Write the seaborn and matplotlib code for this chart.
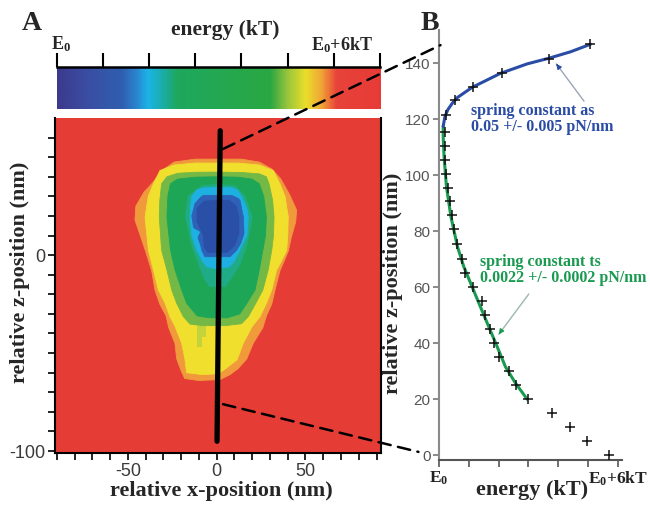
import numpy as np
import pandas as pd
import matplotlib
matplotlib.use("Agg")
import matplotlib.pyplot as plt
import seaborn as sns
from matplotlib.colors import LinearSegmentedColormap
from matplotlib.patches import ConnectionPatch

# ---------------- data ----------------
# colour scale (energy in kT above E0)
cbar_pos = [0.00, 0.08, 0.20, 0.245, 0.28, 0.32, 0.37, 0.66, 0.715, 0.77, 0.82, 0.865, 1.00]
cbar_col = ["#3b3a8e", "#3b4ca0", "#2f5fb0", "#2a86cf", "#1bb5e6", "#1aaeb0", "#1ea85e",
            "#2aa742", "#9cc63c", "#eadf2a", "#f1a236", "#e8433a", "#e73b37"]
cbar_ticks = [0, 1, 2, 3, 4, 5, 6, 7]

# energy landscape (panel A): iso-energy band outlines, (x nm, z nm)
band_names = ["orange", "yellow", "lightgreen", "green", "teal", "cyan", "blue", "darkblue"]
band_colors = ["#f09a3c", "#f1df2e", "#74b945", "#1ea657", "#1fab86", "#1eb0e0", "#2d62b8", "#2a4fa6"]
band_x = [
    [0, 14, 24, 31, 36, 41, 45, 44.5, 42, 40.3, 38, 35.6, 32.8, 31, 28, 26, 20.6, 16.9, 12, 7.5, 2, -10, -18,
     -20, -22.5, -23.5, -27, -28.5, -32, -34.7, -36.6, -40, -43, -46, -45.5, -41, -36, -31, -24, -12],
    [0, 12, 24, 31.9, 35.6, 38.5, 40.3, 40, 39.4, 36.5, 33.75, 31, 28, 24.4, 20, 15, 11.5, 5, 1, -8, -16.9,
     -17.8, -19.7, -23.4, -26.3, -29, -32.8, -35.6, -38.4, -40.3, -38.5, -35.6, -31.9, -24, -12],
    [0, 14, 24, 28, 29.5, 31.5, 32.3, 32, 31, 29, 26, 22, 17.8, 14, 5, -8, -15, -18.75, -22.5, -25.3, -28,
     -31, -32.3, -32, -31, -28, -22, -12],
    [0, 12, 20, 24, 26.5, 28, 27.5, 26, 24, 21.6, 17, 13, 6, -4, -11, -16.9, -19.7, -23.4, -26, -28, -27.5,
     -26, -22, -12],
    [0, 10, 16, 20, 17, 13, 8, 5, -4, -7, -10, -14, -17.5, -16, -8],
    [0, 8, 11.5, 14, 17, 17.8, 17, 13, 10, 7, 0, -5.6, -8, -11.25, -14, -15, -14.5, -14, -11, -6],
    [0, 8.4, 12, 13.1, 15, 15.4, 13.5, 11.25, 7.5, -6.6, -8.4, -9, -10.5, -9, -13, -14, -12.2, -9, -7.5],
    [0, 7, 11, 12.5, 12.5, 10, 6, -5, -7, -7.5, -11, -11, -7],
]
band_z = [
    [49, 49, 47.5, 44, 39, 31, 23, 17, 9, 2, -3, -8, -18, -25, -31, -37, -45, -53, -58, -61, -63.5, -64, -63,
     -59, -53, -45, -37, -31, -25, -18, -8, 2, 10, 18, 25, 32, 37, 43, 47.5, 49],
    [47, 47, 46, 43.2, 36.4, 30, 19.5, 10, 2.5, -3, -7.6, -17.8, -24.6, -31.4, -36.4, -44.9, -53.4, -58, -60.5,
     -61, -60, -53.4, -44.9, -36.4, -31.4, -24.6, -17.8, -7.6, 2.5, 19.5, 30, 36.4, 43.2, 46, 47],
    [42.4, 42.2, 41.5, 40, 36.4, 28, 19.5, 10, 2.5, -7.6, -17.8, -24.6, -31.4, -35, -36, -36, -35.2, -31.4,
     -24.6, -17.8, -7.6, 2.5, 19.5, 28, 36.4, 40, 41.8, 42.3],
    [40, 39.8, 38.8, 36.4, 30, 19.5, 10, 2.5, -7.6, -17.8, -24.6, -30, -32, -32, -31, -24.6, -17.8, -7.6, 2.5,
     19.5, 30, 36.4, 38.8, 39.8],
    [36, 35.5, 30, 19.5, 5, -5, -12, -16, -16, -12, -5, 5, 19.5, 30, 35.5],
    [34.5, 34.4, 33.5, 30, 24, 19.5, 10, 2.5, -3, -6, -7, -6, -3, 2.5, 10, 19.5, 26, 30, 33.5, 34.4],
    [30.5, 30.5, 29, 28, 19.5, 11, 6, 2.5, -0.8, -0.8, 2.5, 5, 9, 12, 14, 20, 26.3, 29.5, 30.5],
    [28, 28, 25, 19.5, 11, 5, 1.5, 1.5, 4, 10, 17, 24, 27.5],
]
# yellow-green patch below the main basin
patch_x = [-11, -6, -6, -8, -8, -11]
patch_z = [-36, -36, -42, -42, -47, -47]

# scan line through the landscape
scan_x = [2.0, 0.2]
scan_z = [63.5, -95.0]

# panel B: energy profile along the scan line (E in kT, z in nm)
prof_z = [0, 5, 10, 15, 20, 25, 30, 35, 40, 45, 50, 55, 60, 65, 70, 75.5, 80.8, 85.8, 90.8, 95.6,
          100.5, 105.5, 110.5, 115.5, 121.5, 126.9, 131.4, 136.6, 141.4, 146.8]
prof_E = [5.70, 4.97, 4.41, 3.80, 2.99, 2.60, 2.34, 2.01, 1.84, 1.70, 1.56, 1.45, 1.15, 0.87, 0.78, 0.60,
          0.51, 0.43, 0.36, 0.29, 0.24, 0.21, 0.19, 0.20, 0.25, 0.55, 1.15, 2.10, 3.68, 5.07]

# fitted harmonic curves
fit_ts_E = [2.96, 2.57, 2.23, 1.95, 1.67, 1.39, 1.11, 0.83, 0.62, 0.40, 0.25, 0.17, 0.14, 0.14]
fit_ts_z = [20.0, 25.7, 31.6, 38.8, 45.9, 53.0, 60.2, 67.4, 74.5, 85.2, 95.9, 106.6, 114.0, 117.5]
fit_as_E = [0.14, 0.20, 0.30, 0.45, 0.62, 1.11, 2.06, 2.96, 3.68, 4.41, 5.08]
fit_as_z = [117.5, 121.0, 123.5, 125.8, 127.8, 131.4, 136.4, 139.8, 141.8, 144.1, 146.8]

# ---------------- style ----------------
sns.set_style("ticks")
plt.rcParams['font.family'] = ['Liberation Sans', 'DejaVu Sans']
plt.rcParams['axes.unicode_minus'] = False
plt.rcParams['mathtext.fontset'] = 'custom'
plt.rcParams['mathtext.bf'] = 'Liberation Serif:bold'
plt.rcParams['mathtext.rm'] = 'Liberation Serif:bold'
plt.rcParams['mathtext.it'] = 'Liberation Serif:bold'

SERIF = dict(family='Liberation Serif', weight='bold')
RED = "#e63c36"
W, H = 650, 511

fig = plt.figure(figsize=(6.5, 5.11), dpi=100)


def box(l, t, r, b):
    return [l / W, 1 - b / H, (r - l) / W, (b - t) / H]


cmap = LinearSegmentedColormap.from_list("energy", list(zip(cbar_pos, cbar_col)))

# ---------------- colour bar ----------------
cax = fig.add_axes(box(56.5, 67, 380, 109))
grad = np.linspace(0, 7, 400)[None, :]
cax.imshow(grad, extent=(0, 7, 0, 1), aspect='auto', cmap=cmap, vmin=0, vmax=7)
cax.set_xlim(0, 7)
cax.set_ylim(0, 1)
for s in ['left', 'right', 'bottom']:
    cax.spines[s].set_visible(False)
cax.spines['top'].set_linewidth(1.8)
cax.spines['top'].set_color('black')
cax.xaxis.tick_top()
cax.set_xticks(cbar_ticks)
cax.set_xticklabels([])
cax.set_yticks([])
cax.tick_params(axis='x', direction='out', length=10, width=1.5, color='black', top=True, bottom=False)
fig.text(225 / W, 1 - 30 / H, "energy (kT)", ha='center', va='center', fontsize=15.5, **SERIF)
fig.text(61 / W, 1 - 44 / H, r"$\mathbf{E_0}$", ha='center', va='center', fontsize=13)
fig.text(342 / W, 1 - 45 / H, r"$\mathbf{E_0{+}6kT}$", ha='center', va='center', fontsize=13)

# ---------------- panel A: energy landscape ----------------
ax = fig.add_axes(box(55, 118, 381, 453))
ax.set_facecolor(RED)
for i, (xs, zs, col) in enumerate(zip(band_x, band_z, band_colors)):
    ax.fill(xs, zs, color=col, lw=0.6, ec=col)
    if i == 1:
        ax.fill(patch_x, patch_z, color="#c2d43a", lw=0)
ax.plot(scan_x, scan_z, color='black', lw=3.8, solid_capstyle='round')
ax.set_xlim(-91, 92.5)
ax.set_ylim(-101, 70)
ax.set_xticks([-50, 0, 50])
ax.set_xticks(np.arange(-90, 91, 10), minor=True)
ax.set_yticks([-100, 0])
ax.set_yticks(np.arange(-100, 61, 10), minor=True)
ax.tick_params(which='both', direction='out', length=5, width=1.2, color='black',
               labelsize=13, labelcolor='#3a3a3a', pad=2)
ax.spines['top'].set_visible(False)
for s in ['left', 'bottom', 'right']:
    ax.spines[s].set_linewidth(1.5)
    ax.spines[s].set_color('black')
ax.set_xlabel("relative x-position (nm)", fontsize=16, **SERIF)
ax.xaxis.set_label_coords(0.509, -0.085)
ax.set_ylabel("relative z-position (nm)", fontsize=16, **SERIF)
ax.yaxis.label.set_va('center')
ax.yaxis.set_label_coords(-0.107, 0.54)

# ---------------- panel B: energy profile ----------------
bx = fig.add_axes(box(439, 30, 622, 460))
df_pts = pd.DataFrame({"E": prof_E, "z": prof_z})
df_ts = pd.DataFrame({"E": fit_ts_E, "z": fit_ts_z})
df_as = pd.DataFrame({"E": fit_as_E, "z": fit_as_z})
GREEN = "#1a9a50"
BLUE = "#2a4ca4"
sns.lineplot(data=df_ts, x="E", y="z", sort=False, estimator=None, color=GREEN, lw=2.2, ax=bx)
sns.lineplot(data=df_as, x="E", y="z", sort=False, estimator=None, color=BLUE, lw=2.2, ax=bx)
sns.scatterplot(data=df_pts, x="E", y="z", marker='+', s=45, color='#111111', linewidth=1.1, ax=bx, zorder=5)
bx.set_xlim(0, 6.14)
bx.set_ylim(-1.7, 151.9)
bx.set_yticks(np.arange(0, 141, 20))
bx.set_xticks(np.arange(0, 7, 1))
bx.set_xticklabels([r"$\mathbf{E_0}$", "", "", "", "", "", r"$\mathbf{E_0{+}6kT}$"])
bx.tick_params(axis='y', direction='out', length=4.5, width=1.2, color='#777777',
               labelsize=11, labelcolor='#555555', pad=1.5)
bx.tick_params(axis='x', direction='out', length=5, width=1.2, color='#555555',
               labelsize=12.5, labelcolor='#222222', pad=2)
for s in ['top', 'right']:
    bx.spines[s].set_visible(False)
bx.spines['left'].set_color('#8a8a8a')
bx.spines['left'].set_linewidth(1.5)
bx.spines['bottom'].set_color('#555555')
bx.spines['bottom'].set_linewidth(1.5)
bx.set_xlabel("energy (kT)", fontsize=16, **SERIF)
bx.xaxis.set_label_coords(0.511, -0.07)
bx.xaxis.label.set_va('center')
bx.set_ylabel("relative z-position (nm)", fontsize=16, **SERIF)
bx.yaxis.label.set_va('center')
bx.yaxis.set_label_coords(-0.251, 0.41)

# annotations
bx.text(1.06, 120.1, "spring constant as\n0.05 +/- 0.005 pN/nm", color=BLUE, fontsize=11.5,
        ha='left', va='center', linespacing=1.05, **SERIF)
bx.annotate("", xy=(3.88, 140.6), xytext=(4.92, 125.7),
            arrowprops=dict(arrowstyle='-', color='#9aa6b8', lw=1.0))
bx.annotate("", xy=(3.88, 140.6), xytext=(4.02, 138.6),
            arrowprops=dict(arrowstyle='-|>', color=BLUE, lw=1.0, mutation_scale=7))
bx.text(1.36, 66.1, "spring constant ts\n0.0022 +/- 0.0002 pN/nm", color=GREEN, fontsize=11.5,
        ha='left', va='center', linespacing=1.05, **SERIF)
bx.annotate("", xy=(1.95, 42.4), xytext=(3.07, 58.4),
            arrowprops=dict(arrowstyle='-', color='#9ab8a8', lw=1.0))
bx.annotate("", xy=(1.95, 42.4), xytext=(2.1, 44.6),
            arrowprops=dict(arrowstyle='-|>', color=GREEN, lw=1.0, mutation_scale=7))

# panel letters
fig.text(32 / W, 1 - 23 / H, "A", ha='center', va='center', fontsize=20, **SERIF)
fig.text(430 / W, 1 - 23 / H, "B", ha='center', va='center', fontsize=20, **SERIF)

# dashed connectors between the scan line and panel B
for (za, eb, zb) in [(54.2, 0.05, 146.5), (-76.1, -0.69, 1.2)]:
    con = ConnectionPatch(xyA=(3.6, za), coordsA=ax.transData, xyB=(eb, zb), coordsB=bx.transData,
                          color='black', lw=1.8, linestyle=(0, (5, 3)))
    fig.add_artist(con)

fig.savefig("out.png", dpi=100)
